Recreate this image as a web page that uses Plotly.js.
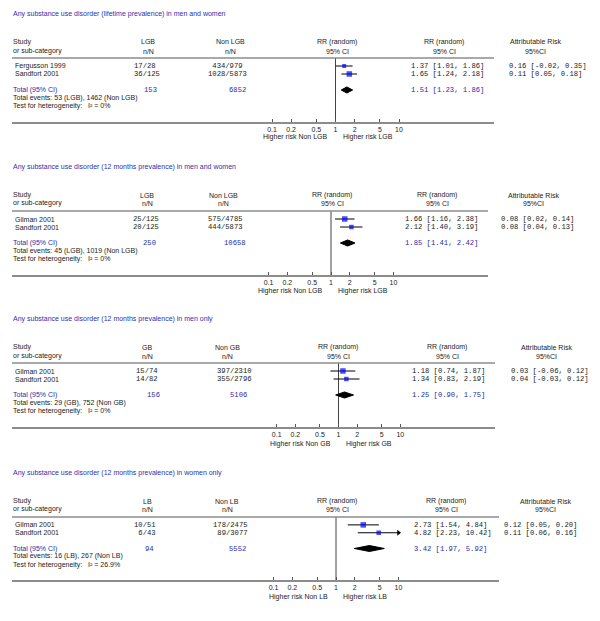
<!DOCTYPE html>
<html>
<head>
<meta charset="utf-8">
<script src="https://cdn.plot.ly/plotly-3.0.1.min.js"></script>
<style>html,body{margin:0;padding:0;background:#fff;}#chart{width:600px;height:621px;}</style>
</head>
<body>
<div id="chart"></div>
<script>
// ---------------- DATA ----------------
const panelTitles = [
  "Any substance use disorder (lifetime prevalence) in men and women",
  "Any substance use disorder (12 months prevalence) in men and women",
  "Any substance use disorder (12 months prevalence) in men only",
  "Any substance use disorder (12 months prevalence) in women only"
];
const groupLabels = ["LGB", "LGB", "GB", "LB"];
const compLabels = ["Non LGB", "Non LGB", "Non GB", "Non LB"];
const studies = [
  ["Fergusson 1999", "Sandfort 2001"],
  ["Gilman 2001", "Sandfort 2001"],
  ["Gilman 2001", "Sandfort 2001"],
  ["Gilman 2001", "Sandfort 2001"]
];
const groupEvents = [[17, 36], [25, 20], [15, 14], [10, 6]];
const groupTotals = [[28, 125], [125, 125], [74, 82], [51, 43]];
const compEvents = [[434, 1028], [575, 444], [397, 355], [178, 89]];
const compTotals = [[979, 5873], [4785, 5873], [2310, 2796], [2475, 3077]];
const rr = [[1.37, 1.65], [1.66, 2.12], [1.18, 1.34], [2.73, 4.82]];
const rrLo = [[1.01, 1.24], [1.16, 1.40], [0.74, 0.83], [1.54, 2.23]];
const rrHi = [[1.86, 2.18], [2.38, 3.19], [1.87, 2.19], [4.84, 10.42]];
const totalRR = [1.51, 1.85, 1.25, 3.42];
const totalLo = [1.23, 1.41, 0.90, 1.97];
const totalHi = [1.86, 2.42, 1.75, 5.92];
const ar = [[0.16, 0.11], [0.08, 0.08], [0.03, 0.04], [0.12, 0.11]];
const arLo = [[-0.02, 0.05], [0.02, 0.04], [-0.06, -0.03], [0.05, 0.06]];
const arHi = [[0.35, 0.18], [0.14, 0.13], [0.12, 0.12], [0.20, 0.16]];
const heterogeneity = ["0%", "0%", "0%", "26.9%"];
const tickVals = [0.1, 0.2, 0.5, 1, 2, 5, 10];
const tickText = ["0.1", "0.2", "0.5", "1", "2", "5", "10"];

// ---------------- STYLE / GEOMETRY ----------------
const W = 600, H = 621;
const SANS = "Liberation Sans, Arial, sans-serif";
const MONO = "Liberation Mono, Courier New, monospace";
const FS = 7, MS = 7.2;
const TXT = "#222", BLUE = "#2b2ba8", TITLE = "#2f2fb0", RULE = "#8c8c8c";
const PLOT_MAX = 10;
const markerSizes = [[4, 5.5], [5.5, 4.5], [5.5, 4.5], [5.5, 4.5]];
// pixel geometry of each panel
const geom = [
  {title:14, h1:42, h2:51, hline:58, axis:122, higher:137, left:12, right:494, x1:335.5, ppd:63.5,
   gC:147, gTot:158, cC:227, cTot:247, gH:148, cH:230, rrH:337, rrCol:410, rrColH:444, arCol:508, arH:535},
  {title:167, h1:195, h2:203, hline:211, axis:275, higher:291, left:12, right:488, x1:331, ppd:62.5,
   gC:146, gTot:157, cC:225, cTot:247, gH:147, cH:223, rrH:332, rrCol:404, rrColH:437, arCol:500, arH:533},
  {title:319, h1:347, h2:356, hline:363, axis:427, higher:444, left:12, right:495, x1:338.5, ppd:61.8,
   gC:147, gTot:161, cC:234, cTot:248, gH:147, cH:227, rrH:338, rrCol:411, rrColH:447, arCol:510, arH:546},
  {title:473, h1:501, h2:509, hline:517, axis:580, higher:597, left:12, right:499, x1:336, ppd:62.5,
   gC:145, gTot:155, cC:230, cTot:247, gH:147, cH:227, rrH:337, rrCol:413, rrColH:446, arCol:503, arH:545}
];

const NB = "\u00A0";
const px = x => x / W;
const py = y => 1 - y / H;
const annotations = [], shapes = [], traces = [];
const layout = {
  width: W, height: H, margin: {l:0, r:0, t:0, b:0},
  paper_bgcolor: "#fff", plot_bgcolor: "rgba(0,0,0,0)", showlegend: false,
  annotations, shapes
};

function txt(text, x, y, anchor, opts) {
  opts = opts || {};
  annotations.push({
    text, x: px(x), y: py(y), xref: "paper", yref: "paper",
    xanchor: anchor, yanchor: "middle", showarrow: false, borderpad: 0,
    font: {family: opts.mono ? MONO : SANS, size: opts.mono ? MS : FS, color: opts.color || TXT}
  });
}
const f2 = v => v.toFixed(2);
function nN(ev, tot, evW, totW) {
  return String(ev).padStart(evW, NB) + "/" + String(tot).padEnd(totW, NB);
}
const sum = a => a.reduce((s, v) => s + v, 0);

for (let p = 0; p < 4; p++) {
  const g = geom[p];
  const xa = p === 0 ? "x" : "x" + (p + 1);
  const ya = p === 0 ? "y" : "y" + (p + 1);
  layout[p === 0 ? "xaxis" : "xaxis" + (p + 1)] = {
    type: "log", domain: [px(g.left), px(g.right)],
    range: [(g.left - g.x1) / g.ppd, (g.right - g.x1) / g.ppd],
    anchor: ya, showline: true, linecolor: RULE, linewidth: 1.5,
    tickmode: "array", tickvals: tickVals, ticktext: tickText,
    ticks: "inside", ticklen: 3, tickwidth: 1, tickcolor: "#555",
    tickfont: {family: SANS, size: FS, color: TXT},
    showgrid: false, zeroline: false, fixedrange: true
  };
  layout[p === 0 ? "yaxis" : "yaxis" + (p + 1)] = {
    domain: [py(g.axis), py(g.hline)], range: [8, 0], anchor: xa,
    visible: false, showgrid: false, zeroline: false, fixedrange: true
  };
  // header rule
  shapes.push({type: "line", xref: "paper", yref: "paper",
    x0: px(g.left), x1: px(g.right), y0: py(g.hline), y1: py(g.hline),
    line: {color: RULE, width: 1.5}});
  // line of no effect
  traces.push({x: [1, 1], y: [0, 8], xaxis: xa, yaxis: ya, mode: "lines",
    line: {color: "#444", width: 1}, hoverinfo: "skip", cliponaxis: false});
  // CIs
  for (let i = 0; i < 2; i++) {
    const hi = Math.min(rrHi[p][i], PLOT_MAX);
    traces.push({x: [rrLo[p][i], hi], y: [i + 1, i + 1], xaxis: xa, yaxis: ya,
      mode: "lines", line: {color: "#000", width: 1}, hoverinfo: "skip", cliponaxis: false});
    if (rrHi[p][i] > PLOT_MAX) {
      traces.push({x: [PLOT_MAX], y: [i + 1], xaxis: xa, yaxis: ya, mode: "markers",
        marker: {symbol: "triangle-right", size: 5, color: "#000"}, hoverinfo: "skip", cliponaxis: false});
    }
  }
  // study squares
  traces.push({x: rr[p], y: [1, 2], xaxis: xa, yaxis: ya, mode: "markers",
    marker: {symbol: "square", size: markerSizes[p], color: "#0000ff", line: {width: 0}},
    hoverinfo: "skip", cliponaxis: false});
  // pooled diamond
  traces.push({x: [totalLo[p], totalRR[p], totalHi[p], totalRR[p], totalLo[p]],
    y: [4, 3.62, 4, 4.38, 4], xaxis: xa, yaxis: ya, mode: "lines", fill: "toself",
    fillcolor: "#000", line: {color: "#000", width: 1}, hoverinfo: "skip", cliponaxis: false});

  // ---- texts ----
  txt(panelTitles[p], g.left, g.title, "left", {color: TITLE});
  txt("Study", g.left, g.h1, "left");
  txt("or sub-category", g.left, g.h2, "left");
  txt(groupLabels[p], g.gH, g.h1, "center");
  txt("n/N", g.gH, g.h2, "center");
  txt(compLabels[p], g.cH, g.h1, "center");
  txt("n/N", g.cH, g.h2, "center");
  txt("RR (random)", g.rrH, g.h1, "center");
  txt("95% CI", g.rrH, g.h2, "center");
  txt("RR (random)", g.rrColH, g.h1, "center");
  txt("95% CI", g.rrColH, g.h2, "center");
  txt("Attributable Risk", g.arH, g.h1, "center");
  txt("95%CI", g.arH, g.h2, "center");

  const rowY = r => g.hline + r * (g.axis - g.hline) / 8;
  const gEvW = Math.max(...groupEvents[p].map(v => String(v).length));
  const gTotW = Math.max(...groupTotals[p].map(v => String(v).length));
  const cEvW = Math.max(...compEvents[p].map(v => String(v).length));
  const cTotW = Math.max(...compTotals[p].map(v => String(v).length));
  for (let i = 0; i < 2; i++) {
    const y = rowY(i + 1);
    txt(studies[p][i], g.left + 2, y, "left");
    txt(nN(groupEvents[p][i], groupTotals[p][i], gEvW, gTotW), g.gC, y, "center", {mono: true});
    txt(nN(compEvents[p][i], compTotals[p][i], cEvW, cTotW), g.cC, y, "center", {mono: true});
    txt(f2(rr[p][i]) + " [" + f2(rrLo[p][i]) + ", " + f2(rrHi[p][i]) + "]", g.rrCol, y, "left", {mono: true});
    txt(f2(ar[p][i]) + " [" + f2(arLo[p][i]) + ", " + f2(arHi[p][i]) + "]", g.arCol, y, "left", {mono: true});
  }
  const ty = rowY(4);
  txt("Total (95% CI)", g.left, ty, "left", {color: BLUE});
  txt(String(sum(groupTotals[p])), g.gTot, ty, "right", {mono: true, color: BLUE});
  txt(String(sum(compTotals[p])), g.cTot, ty, "right", {mono: true, color: BLUE});
  txt(f2(totalRR[p]) + " [" + f2(totalLo[p]) + ", " + f2(totalHi[p]) + "]", g.rrCol, ty, "left", {mono: true, color: BLUE});
  txt("Total events: " + sum(groupEvents[p]) + " (" + groupLabels[p] + "), " + sum(compEvents[p]) + " (" + compLabels[p] + ")",
      g.left, rowY(5), "left");
  txt("Test for heterogeneity:   I\u00B2 = " + heterogeneity[p], g.left, rowY(6.05), "left");
  txt("Higher risk " + compLabels[p], g.x1 - 7, g.higher, "right");
  txt("Higher risk " + groupLabels[p], g.x1 + 6, g.higher, "left");
}

Plotly.newPlot("chart", traces, layout, {staticPlot: true, displayModeBar: false});
</script>
</body>
</html>
